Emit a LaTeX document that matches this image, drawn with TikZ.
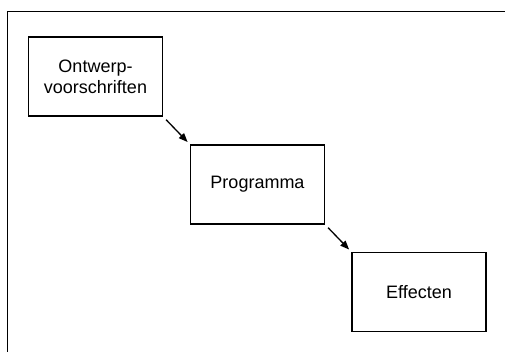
\documentclass[tikz,border=0pt]{standalone}
\usepackage{fontspec}
\setmainfont{Liberation Sans}
\usetikzlibrary{arrows.meta}
\begin{document}
\begin{tikzpicture}[x=1pt,y=-1pt,
  stagebox/.style={draw, line width=1.6pt, minimum width=134pt, minimum height=79pt,
    inner sep=0pt, align=center, font=\fontsize{18}{21}\selectfont},
  flow/.style={line width=1.3pt, -{Triangle[length=9pt,width=7pt]},
    shorten <=4pt, shorten >=3pt}]
  \useasboundingbox (0,0) rectangle (505,352);
  % outer frame
  \draw[line width=1.9pt] (7.5,352) coordinate (fl) -- (7.5,11.5) coordinate (ftl) -- (505,11.5) coordinate (fr);
  % stages
  \node[stagebox] (ontwerp) at (95.5,76.5) {Ontwerp-\\voorschriften};
  \node[stagebox] (prog) at (257.5,184.5) {Programma};
  \node[stagebox] (eff) at (419,292) {Effecten};
  % connectors
  \draw[flow] (ontwerp.south east) -- (prog.north west);
  \draw[flow] (prog.south east) -- (eff.north west);
\end{tikzpicture}
\end{document}
